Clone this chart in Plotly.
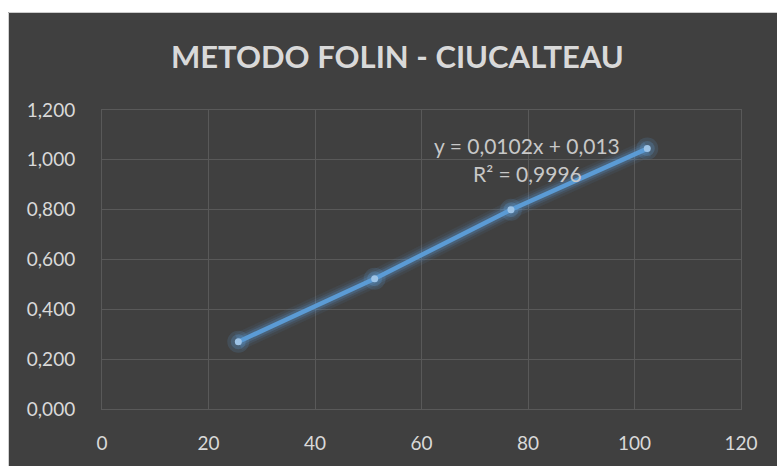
import plotly.graph_objects as go

# Calibration data: concentration vs absorbance
concentration = [25.6, 51.2, 76.8, 102.4]
absorbance = [0.270, 0.523, 0.800, 1.045]

x_ticks = [0, 20, 40, 60, 80, 100, 120]
y_ticks = [0.0, 0.2, 0.4, 0.6, 0.8, 1.0, 1.2]

title_text = "METODO FOLIN - CIUCALTEAU"
equation_text = "y = 0,0102x + 0,013"
r2_text = "R² = 0,9996"

LINE_BLUE = "#5b9bd5"
MARKER_BLUE = "#9dc3e6"
DARK_BG = "#404040"
GRID = "#595959"
TEXT = "#d9d9d9"
FONT = "Lato, 'Open Sans', sans-serif"

fig = go.Figure()

# soft glow under the series line
for w, a in [(18, 0.08), (13, 0.13), (9, 0.22)]:
    fig.add_trace(go.Scatter(
        x=concentration, y=absorbance, mode="lines",
        line=dict(color=f"rgba(91,155,213,{a})", width=w),
        hoverinfo="skip", showlegend=False,
    ))
# glow around the markers
for s, a in [(22, 0.16), (15, 0.25)]:
    fig.add_trace(go.Scatter(
        x=concentration, y=absorbance, mode="markers",
        marker=dict(color=f"rgba(91,155,213,{a})", size=s, line=dict(width=0)),
        hoverinfo="skip", showlegend=False,
    ))

fig.add_trace(go.Scatter(
    x=concentration, y=absorbance, mode="lines+markers",
    line=dict(color=LINE_BLUE, width=4.5),
    marker=dict(color=MARKER_BLUE, size=7, line=dict(width=0)),
    showlegend=False,
))

L, R, T, B = 102, 36, 110, 54
W, H = 777, 466
pw, ph = W - L - R, H - T - B


def px_x(p):
    return (p - L) / pw


def px_y(p):
    return (H - B - p) / ph


# white page strips above and left of the dark chart panel
fig.add_shape(type="rect", xref="paper", yref="paper",
              x0=px_x(-5), x1=px_x(W + 5), y0=px_y(11), y1=px_y(-5),
              fillcolor="white", line=dict(width=0), layer="below")
fig.add_shape(type="rect", xref="paper", yref="paper",
              x0=px_x(-5), x1=px_x(8), y0=px_y(H + 5), y1=px_y(-5),
              fillcolor="white", line=dict(width=0), layer="below")
# thin light edge of the panel
fig.add_shape(type="line", xref="paper", yref="paper",
              x0=px_x(8.5), x1=px_x(W + 5), y0=px_y(11.5), y1=px_y(11.5),
              line=dict(color="#d0d0d0", width=1), layer="below")
fig.add_shape(type="line", xref="paper", yref="paper",
              x0=px_x(8.5), x1=px_x(8.5), y0=px_y(11.5), y1=px_y(H + 5),
              line=dict(color="#d0d0d0", width=1), layer="below")

fig.add_annotation(
    text=f"<b>{title_text}</b>", xref="paper", yref="paper",
    x=px_x(397), y=px_y(55), xanchor="center", yanchor="middle",
    showarrow=False, font=dict(family=FONT, size=31, color=TEXT),
)
fig.add_annotation(
    text=equation_text, xref="paper", yref="paper",
    x=px_x(527), y=px_y(146), xanchor="center", yanchor="middle",
    showarrow=False, font=dict(family=FONT, size=21, color="#c8c8c8"),
)
fig.add_annotation(
    text=r2_text, xref="paper", yref="paper",
    x=px_x(527), y=px_y(174), xanchor="center", yanchor="middle",
    showarrow=False, font=dict(family=FONT, size=21, color="#c8c8c8"),
)

fig.update_layout(
    width=W, height=H,
    margin=dict(l=L, r=R, t=T, b=B, pad=0),
    paper_bgcolor=DARK_BG,
    plot_bgcolor="rgba(0,0,0,0)",
    separators=",.",
    font=dict(family=FONT, size=19, color=TEXT),
    showlegend=False,
)
fig.update_xaxes(
    range=[0, 120], tickmode="array", tickvals=x_ticks,
    showgrid=True, gridcolor=GRID, gridwidth=1, zeroline=False,
    showline=True, linecolor=GRID, linewidth=1, mirror=True,
    ticks="", ticklabelstandoff=17,
    tickfont=dict(family=FONT, size=19, color=TEXT),
)
fig.update_yaxes(
    range=[0, 1.2], tickmode="array", tickvals=y_ticks, tickformat=".3f",
    showgrid=True, gridcolor=GRID, gridwidth=1, zeroline=False,
    showline=True, linecolor=GRID, linewidth=1, mirror=True,
    ticks="", ticklabelstandoff=22,
    tickfont=dict(family=FONT, size=19, color=TEXT),
)

fig.write_html("out.html")
